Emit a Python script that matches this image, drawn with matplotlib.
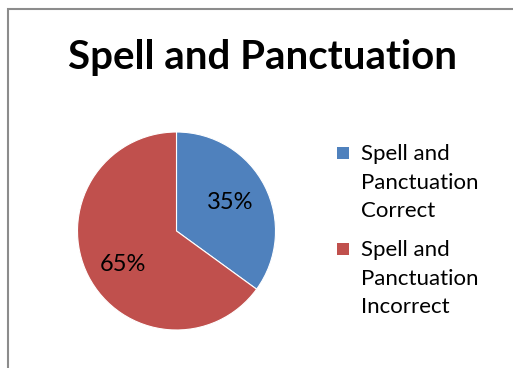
import matplotlib
matplotlib.use("Agg")
import matplotlib.pyplot as plt
from matplotlib.patches import Rectangle

title = "Spell and Panctuation"
labels = ["Spell and\nPanctuation\nCorrect", "Spell and\nPanctuation\nIncorrect"]
values = [35, 65]
colors = ["#4F81BD", "#C0504D"]

plt.rcParams['font.family'] = ['Lato', 'DejaVu Sans']

W, H = 513, 368
fig = plt.figure(figsize=(W/100, H/100), dpi=100)
fig.patch.set_facecolor("white")

# outer border (chart area extends beyond image on right/bottom)
fig.add_artist(Rectangle((8/W, -0.1), 1.2, (H-9)/H + 0.1, transform=fig.transFigure,
                         fill=False, edgecolor="#8c8c8c", linewidth=1.5))

fig.text(263/W, 1 - 58/H, title, ha="center", va="center", fontsize=29, fontweight="bold")

cx, cy, r = 176.5, 231, 99
ax = fig.add_axes([(cx - r)/W, 1 - (cy + r)/H, 2*r/W, 2*r/H])
wedges, texts, autotexts = ax.pie(values, colors=colors, startangle=90, counterclock=False,
                                  autopct=lambda p: f"{p:.0f}%", pctdistance=0.62,
                                  radius=1.0, wedgeprops=dict(linewidth=0.8, edgecolor="white"),
                                  textprops=dict(fontsize=17, color="black"))
autotexts[0].set_position((0.54, 0.29))
autotexts[1].set_position((-0.54, -0.34))
ax.set_xlim(-1, 1)
ax.set_ylim(-1, 1)
ax.set_aspect("equal")

# legend
entries_y = [153, 249]
for lab, col, y in zip(labels, colors, entries_y):
    fig.add_artist(Rectangle((337/W, 1 - (y + 6)/H), 12/W, 12/H, transform=fig.transFigure,
                             facecolor=col, edgecolor="none"))
    fig.text(361/W, 1 - (y - 9)/H, lab, ha="left", va="top", fontsize=16, linespacing=1.54)

fig.savefig("out.png", dpi=100, facecolor="white")
